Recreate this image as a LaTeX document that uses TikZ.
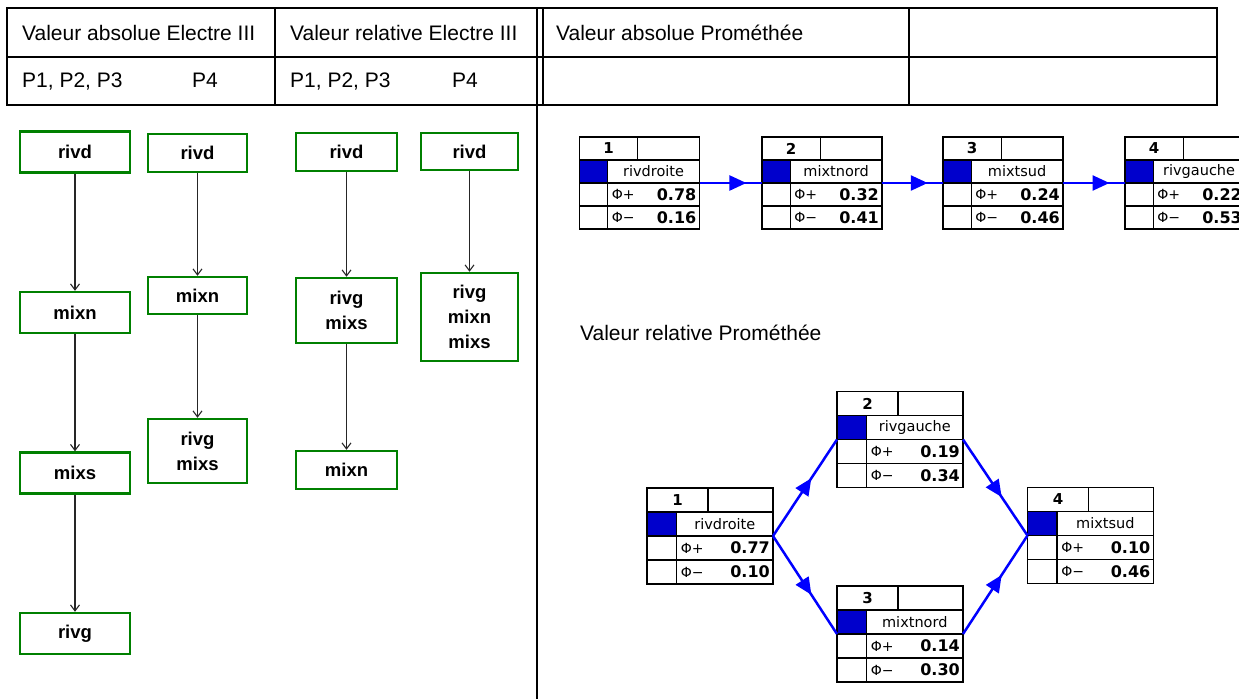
\documentclass[tikz,border=0pt]{standalone}
\usepackage{fontspec}
\setmainfont{Liberation Sans}
\newfontfamily\promefont{DejaVu Sans}
\usetikzlibrary{positioning,calc,arrows.meta,decorations.markings}
\definecolor{elgreen}{RGB}{0,128,0}
\definecolor{prblue}{RGB}{0,0,255}
\definecolor{prfill}{RGB}{0,0,204}

% one PROMETHEE result box: [style]{name}{centre}{rank}{label}{phi+}{phi-}
\newcommand{\promebox}[7][prbox]{%
  \node[#1] (#2) at (#3) {};
  \coordinate (#2-r1) at ($(#2.north west)!0.25!(#2.south west)$);
  \coordinate (#2-r3) at ($(#2.north west)!0.75!(#2.south west)$);
  \coordinate (#2-p)  at ($(#2.north west)!0.625!(#2.south west)$);
  \coordinate (#2-m)  at ($(#2.north west)!0.875!(#2.south west)$);
  \coordinate (#2-c)  at ($(#2.north west)!0.235!(#2.north east)$);
  \coordinate (#2-h)  at ($(#2.north west)!0.485!(#2.north east)$);
  \coordinate (#2-hb) at (#2-h |- #2-r1);
  \coordinate (#2-cb) at (#2-c |- #2-r1);
  \coordinate (#2-cm) at (#2-c |- #2.west);
  \fill[prfill] (#2-r1) rectangle (#2-cm);
  \draw[prline] (#2-r1) -- (#2-r1 -| #2.east);
  \draw[prline] (#2.west) -- (#2.east);
  \draw[prline] (#2-r3) -- (#2-r3 -| #2.east);
  \draw[prline] (#2-h) -- (#2-hb);
  \draw[prline] (#2-cb) -- (#2-c |- #2.south);
  \draw[prline] (#2.north west) rectangle (#2.south east);
  \node[prnum]  (#2-num)  at ($(#2.north west)!0.5!(#2-hb)$) {#4};
  \node[prname] (#2-name) at ($(#2-cb)!0.5!(#2.east)$) {#5};
  \node[prlab, anchor=west, xshift=4pt]  (#2-pl)  at (#2-p -| #2-c) {Φ+};
  \node[prval, anchor=east, xshift=-3pt] (#2-plv) at (#2-p -| #2.east) {#6};
  \node[prlab, anchor=west, xshift=4pt]  (#2-mi)  at (#2-m -| #2-c) {Φ−};
  \node[prval, anchor=east, xshift=-3pt] (#2-miv) at (#2-m -| #2.east) {#7};
}

\begin{document}
\begin{tikzpicture}[x=1pt, y=-1pt,
  tabline/.style={line width=2pt, black},
  tabtext/.style={font=\fontsize{21}{25}\selectfont, inner sep=0pt, anchor=base west},
  elbox/.style={draw=elgreen, line width=2.5pt, inner sep=0pt, minimum height=41,
    align=center, font=\bfseries\fontsize{18.5}{25}\selectfont},
  eline/.style={-{Straight Barb[length=6pt,width=9pt]}, line width=1.1pt, black!85},
  prbox/.style={draw=black, line width=1.3pt, outer sep=0pt, inner sep=0pt,
    minimum width=120, minimum height=92},
  prboxbig/.style={prbox, minimum width=126, minimum height=96},
  prline/.style={black, line width=1.3pt},
  prnum/.style={font=\promefont\bfseries\fontsize{15}{15}\selectfont, inner sep=0pt},
  prname/.style={font=\promefont\fontsize{14.5}{15}\selectfont, inner sep=0pt},
  prlab/.style={font=\promefont\fontsize{14}{15}\selectfont, inner sep=0pt},
  prval/.style={font=\promefont\bfseries\fontsize{16}{16}\selectfont, inner sep=0pt},
  prarrow/.style={prblue, line width=2.5pt, postaction={decorate},
    decoration={markings, mark=at position #1 with {\arrow{Triangle[length=17pt,width=15pt]}}}},
  prarrow/.default=0.6,
]
\useasboundingbox (0,0) rectangle (1239,699);
\clip (0,0) rectangle (1239,699);

% table of headings
\draw[tabline] (7,8) rectangle (1217,105);
\draw[tabline] (7,57) -- (1217,57);
\draw[tabline] (275,8) -- (275,105);
\draw[tabline] (543,8) -- (543,105);
\draw[tabline] (909,8) -- (909,105);
\draw[tabline] (537,8) -- (537,699);
\node[tabtext] (h1) at (22,40) {Valeur absolue Electre III};
\node[tabtext] (h2) at (290,40) {Valeur relative Electre III};
\node[tabtext] (h3) at (556,40) {Valeur absolue Prométhée};
\node[tabtext] (s1) at (22,87) {P1, P2, P3};
\node[tabtext] (s2) at (192,87) {P4};
\node[tabtext] (s3) at (290,87) {P1, P2, P3};
\node[tabtext] (s4) at (452,87) {P4};

% Electre III, absolute value
\node[elbox, minimum width=110] (a1) at (75,152) {rivd};
\node[elbox, minimum width=110] (a2) at (75,312.5) {mixn};
\node[elbox, minimum width=110] (a3) at (75,473) {mixs};
\node[elbox, minimum width=110] (a4) at (75,633.5) {rivg};
\draw[eline] (a1) -- (a2);
\draw[eline] (a2) -- (a3);
\draw[eline] (a3) -- (a4);
\node[elbox, minimum width=99, minimum height=38] (b1) at (197.5,153) {rivd};
\node[elbox, minimum width=99, minimum height=37] (b2) at (197.5,295.5) {mixn};
\node[elbox, minimum width=99, minimum height=64] (b3) at (197.5,451) {rivg\\mixs};
\draw[eline] (b1) -- (b2);
\draw[eline] (b2) -- (b3);

% Electre III, relative value
\node[elbox, minimum width=101, minimum height=38] (c1) at (346.5,152) {rivd};
\node[elbox, minimum width=101, minimum height=65] (c2) at (346.5,310.5) {rivg\\mixs};
\node[elbox, minimum width=101, minimum height=38] (c3) at (346.5,470) {mixn};
\draw[eline] (c1) -- (c2);
\draw[eline] (c2) -- (c3);
\node[elbox, minimum width=97, minimum height=37] (d1) at (469.5,151.5) {rivd};
\node[elbox, minimum width=97, minimum height=88] (d2) at (469.5,317) {rivg\\mixn\\mixs};
\draw[eline] (d1) -- (d2);

% Promethee, absolute value
\promebox{pa1}{639.5,183}{1}{rivdroite}{0.78}{0.16}
\promebox{pa2}{822,183}{2}{mixtnord}{0.32}{0.41}
\promebox{pa3}{1003,183}{3}{mixtsud}{0.24}{0.46}
\promebox{pa4}{1185,183}{4}{rivgauche}{0.22}{0.53}
\draw[prarrow=0.75] (pa1.east) -- (pa2.west);
\draw[prarrow=0.75] (pa2.east) -- (pa3.west);
\draw[prarrow=0.75] (pa3.east) -- (pa4.west);

% Promethee, relative value
\node[tabtext] (h4) at (580,340) {Valeur relative Prométhée};
\promebox[prboxbig]{pb1}{710,536}{1}{rivdroite}{0.77}{0.10}
\promebox[prboxbig]{pb2}{900,439.5}{2}{rivgauche}{0.19}{0.34}
\promebox[prboxbig]{pb3}{900,634}{3}{mixtnord}{0.14}{0.30}
\promebox[prboxbig]{pb4}{1090.5,535.5}{4}{mixtsud}{0.10}{0.46}
\draw[prarrow] (pb1.east) -- (pb2.west);
\draw[prarrow] (pb1.east) -- (pb3.west);
\draw[prarrow] (pb2.east) -- (pb4.west);
\draw[prarrow] (pb3.east) -- (pb4.west);
\end{tikzpicture}
\end{document}
